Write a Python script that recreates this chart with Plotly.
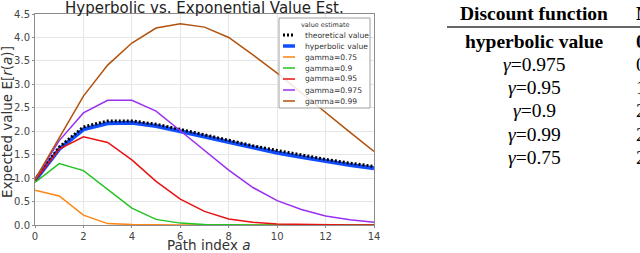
import plotly.graph_objects as go

# ---------------- data ----------------
path_index = list(range(15))
theoretical = [0.97, 1.66, 2.09, 2.22, 2.22, 2.15, 2.04, 1.92, 1.81, 1.69, 1.59, 1.49, 1.40, 1.32, 1.25]
hyperbolic = [0.95, 1.62, 2.04, 2.17, 2.18, 2.11, 2.00, 1.88, 1.77, 1.65, 1.54, 1.45, 1.36, 1.28, 1.21]
gamma_075 = [0.74, 0.62, 0.21, 0.03, 0.01, 0.0, 0.0, 0.0, 0.0, 0.0, 0.0, 0.0, 0.0, 0.0, 0.0]
gamma_090 = [0.91, 1.31, 1.16, 0.75, 0.36, 0.12, 0.04, 0.01, 0.0, 0.0, 0.0, 0.0, 0.0, 0.0, 0.0]
gamma_095 = [0.95, 1.62, 1.88, 1.76, 1.39, 0.93, 0.55, 0.29, 0.13, 0.06, 0.02, 0.01, 0.0, 0.0, 0.0]
gamma_0975 = [0.97, 1.80, 2.39, 2.66, 2.66, 2.43, 2.01, 1.58, 1.17, 0.80, 0.52, 0.33, 0.19, 0.11, 0.06]
gamma_099 = [0.97, 1.86, 2.75, 3.41, 3.88, 4.20, 4.29, 4.22, 4.00, 3.63, 3.24, 2.82, 2.39, 1.98, 1.57]

x_ticks = [0, 2, 4, 6, 8, 10, 12, 14]
y_ticks = [0.0, 0.5, 1.0, 1.5, 2.0, 2.5, 3.0, 3.5, 4.0, 4.5]

legend_labels = ["theoretical value", "hyperbolic value", "gamma=0.75", "gamma=0.9",
                 "gamma=0.95", "gamma=0.975", "gamma=0.99"]

table_header = ["Discount function", "M"]
table_rows = ["hyperbolic value", "<i>γ</i>=0.975", "<i>γ</i>=0.95", "<i>γ</i>=0.9",
              "<i>γ</i>=0.99", "<i>γ</i>=0.75"]
table_second_col = ["0", "0", "1", "2", "2", "2"]

# ---------------- styles ----------------
C_BLUE = "#0f4dff"
C_ORANGE = "#ff8515"
C_GREEN = "#22c422"
C_RED = "#e81212"
C_PURPLE = "#9b30f0"
C_BROWN = "#b0520c"

W, H = 640, 253
L, R, T, B = 35, 266, 14, 28
PW, PH = W - L - R, H - T - B


def px(xp):
    return (xp - L) / PW


def py(yp):
    return (H - B - yp) / PH


FONT = "DejaVu Sans"
SERIF = "Liberation Serif"

fig = go.Figure()

series = [
    (hyperbolic, dict(color=C_BLUE, width=4)),
    (theoretical, dict(color="black", width=3, dash="2px,2px")),
    (gamma_075, dict(color=C_ORANGE, width=1.5)),
    (gamma_090, dict(color=C_GREEN, width=1.5)),
    (gamma_095, dict(color=C_RED, width=1.5)),
    (gamma_0975, dict(color=C_PURPLE, width=1.5)),
    (gamma_099, dict(color=C_BROWN, width=1.5)),
]
for vals, line in series:
    fig.add_trace(go.Scatter(x=path_index, y=vals, mode="lines", line=line,
                             showlegend=False, hoverinfo="skip"))

axis_common = dict(
    showgrid=True, gridcolor="#e6e6e6", gridwidth=1,
    showline=True, linecolor="#8c8c8c", linewidth=1, mirror=True,
    ticks="outside", ticklen=2, tickcolor="#8c8c8c",
    tickfont=dict(family=FONT, size=10, color="#444444"),
    zeroline=False, automargin=False,
)
fig.update_xaxes(range=[0, 14], tickvals=x_ticks, **axis_common)
fig.update_yaxes(range=[0, 4.5], tickvals=y_ticks, tickformat=".1f", **axis_common)

shapes = []
annotations = []


def ann(text, x, y, size, family=FONT, color="#333333", xanchor="center", angle=0):
    annotations.append(dict(text=text, x=px(x), y=py(y), xref="paper", yref="paper",
                            showarrow=False, xanchor=xanchor, yanchor="middle",
                            textangle=angle,
                            font=dict(family=family, size=size, color=color)))


# title
ann("Hyperbolic vs. Exponential Value Est.", 204.5, 7.5, 15, color="#222222")
# axis titles
ann("Expected value E[<i>r</i>(<i>a</i>)]", 7, 122, 13.5, angle=-90)
ann("Path index <i>a</i>", 208, 245, 13.5)

# manual legend
shapes.append(dict(type="rect", xref="paper", yref="paper", x0=px(279), x1=px(370),
                   y0=py(108), y1=py(18), line=dict(color="#a0a0a0", width=1),
                   fillcolor="rgba(255,255,255,0.85)", layer="above"))
ann("value estimate", 324.5, 24.5, 6.5)
leg_styles = [series[1][1], series[0][1]] + [s[1] for s in series[2:]]
for i, (lab, st) in enumerate(zip(legend_labels, leg_styles)):
    yy = 35 + 11 * i
    st2 = dict(st)
    if st2.get("width", 1) > 3:
        st2["width"] = 3.5
    shapes.append(dict(type="line", xref="paper", yref="paper", x0=px(283), x1=px(295),
                       y0=py(yy), y1=py(yy), line=st2, layer="above"))
    ann(lab, 303, yy, 7.6, xanchor="left")

# table on the right
TS = 19.5
ann("<b>" + table_header[0] + "</b>", 534, 13, TS, family=SERIF, color="black")
ann("<b>" + table_header[1] + "</b>", 634, 13, TS, family=SERIF, color="black", xanchor="left")
shapes.append(dict(type="line", xref="paper", yref="paper", x0=px(447), x1=px(645),
                   y0=py(27), y1=py(27), line=dict(color="#333333", width=1.5)))
for i, (lab, val) in enumerate(zip(table_rows, table_second_col)):
    yy = 41 + 23.25 * i
    if i == 0:
        lab = "<b>" + lab + "</b>"
        val = "<b>" + val + "</b>"
    ann(lab, 534, yy, TS, family=SERIF, color="black")
    ann(val, 634, yy, TS, family=SERIF, color="black", xanchor="left")

fig.update_layout(
    width=W, height=H,
    margin=dict(l=L, r=R, t=T, b=B, pad=0, autoexpand=False),
    paper_bgcolor="white", plot_bgcolor="white",
    shapes=shapes, annotations=annotations,
    showlegend=False,
)

fig.write_html("out.html", config={"displayModeBar": False},
               post_script="document.body.style.margin='0px';")
